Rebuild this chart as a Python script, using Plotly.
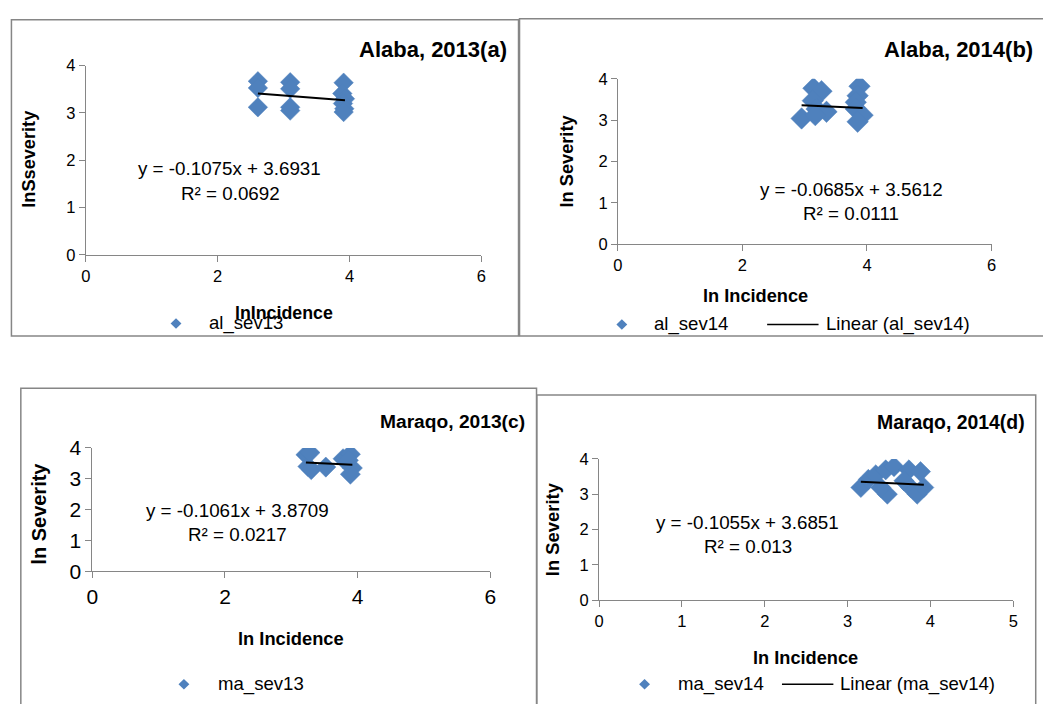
import plotly.graph_objects as go

# ---------------- data ----------------
al13_x = [2.61, 2.61, 2.61, 3.10, 3.10, 3.10, 3.10, 3.91, 3.89, 3.93, 3.90, 3.92, 3.91]
al13_y = [3.67, 3.53, 3.12, 3.65, 3.51, 3.12, 3.05, 3.64, 3.41, 3.30, 3.20, 3.09, 3.02]

al14_x = [2.95, 3.14, 3.27, 3.13, 3.19, 3.35, 3.17, 3.88, 3.85, 3.82, 3.82, 3.93, 3.85]
al14_y = [3.04, 3.77, 3.70, 3.47, 3.27, 3.20, 3.12, 3.82, 3.59, 3.43, 3.27, 3.12, 2.96]

ma13_x = [3.22, 3.25, 3.30, 3.28, 3.52, 3.78, 3.89, 3.92, 3.89, 3.86]
ma13_y = [3.78, 3.40, 3.30, 3.85, 3.38, 3.65, 3.80, 3.35, 3.15, 3.60]

ma14_x = [3.16, 3.25, 3.34, 3.46, 3.56, 3.48, 3.40, 3.74, 3.88, 3.76, 3.84, 3.92, 3.68]
ma14_y = [3.19, 3.42, 3.55, 3.69, 3.78, 3.00, 3.19, 3.69, 3.64, 3.19, 3.00, 3.19, 3.38]

series_names = ["al_sev13", "al_sev14", "ma_sev13", "ma_sev14"]
slopes = [-0.1075, -0.0685, -0.1061, -0.1055]
intercepts = [3.6931, 3.5612, 3.8709, 3.6851]
r2_values = ["0.0692", "0.0111", "0.0217", "0.013"]
panel_titles = ["Alaba, 2013(a)", "Alaba, 2014(b)", "Maraqo, 2013(c)", "Maraqo, 2014(d)"]
y_titles = ["lnSseverity", "ln Severity", "ln Severity", "ln Severity"]
x_titles = ["lnIncidence", "ln Incidence", "ln Incidence", "ln Incidence"]
x_ranges = [[0, 6], [0, 6], [0, 6], [0, 5]]
x_dticks = [2, 2, 2, 1]
y_range = [0, 4]

# ---------------- layout helpers ----------------
W, H = 1043, 704
FONT = "Liberation Sans, Arial, sans-serif"
BLUE = "#4F81BD"
GRAY = "#868686"


def PX(x):
    return x / W


def PY(y):
    return 1 - y / H


# plot areas in pixels: (left, right, top, bottom)
areas = [(80.7, 481.0, 55.5, 251.0),
         (619.0, 997.0, 69.0, 240.0),
         (87.3, 490.0, 450.7, 578.3),
         (600.0, 1019.0, 462.0, 608.0)]
tick_sizes = [16.5, 16.5, 21, 16.5]
marker_sizes = [15, 16.5, 15.5, 15.5]

xs = [al13_x, al14_x, ma13_x, ma14_x]
ys = [al13_y, al14_y, ma13_y, ma14_y]

fig = go.Figure()
layout = dict(width=W, height=H, margin=dict(l=0, r=0, t=0, b=0),
              paper_bgcolor="white", plot_bgcolor="white", showlegend=False,
              font=dict(family=FONT, color="black"))

for i in range(4):
    sfx = "" if i == 0 else str(i + 1)
    xa, ya = "x" + sfx, "y" + sfx
    fig.add_trace(go.Scatter(x=xs[i], y=ys[i], mode="markers", xaxis=xa, yaxis=ya,
                             name=series_names[i],
                             marker=dict(symbol="diamond", size=marker_sizes[i], color=BLUE,
                                         line=dict(width=0.5, color=BLUE))))
    x0, x1 = min(xs[i]), max(xs[i])
    fig.add_trace(go.Scatter(x=[x0, x1],
                             y=[slopes[i] * x0 + intercepts[i], slopes[i] * x1 + intercepts[i]],
                             mode="lines", xaxis=xa, yaxis=ya,
                             line=dict(color="black", width=2)))
    l, r, t, b = areas[i]
    axcommon = dict(showgrid=False, zeroline=False, showline=True, linecolor=GRAY, linewidth=1,
                    ticks="outside", ticklen=6, tickcolor=GRAY, tickwidth=1,
                    tickfont=dict(family=FONT, size=tick_sizes[i], color="black"), fixedrange=True)
    layout["xaxis" + sfx] = dict(domain=[PX(l), PX(r)], range=x_ranges[i], dtick=x_dticks[i],
                                 tick0=0, anchor=ya, **axcommon)
    layout["yaxis" + sfx] = dict(domain=[PY(b), PY(t)], range=y_range, dtick=1, tick0=0,
                                 anchor=xa, **axcommon)

fig.update_layout(**layout)

ann = []


def text(x, y, s, size, bold=False, xanchor="center", angle=0):
    ann.append(dict(x=PX(x), y=PY(y), xref="paper", yref="paper", showarrow=False,
                    text=("<b>%s</b>" % s) if bold else s, textangle=angle,
                    xanchor=xanchor, yanchor="middle",
                    font=dict(family=FONT, size=size, color="black")))


# titles (right-aligned)
title_pos = [(509, 39, 22), (1041, 39, 22), (527, 423, 19.2), (1033, 424, 19.4)]
for i, (x, y, s) in enumerate(title_pos):
    text(x, y, panel_titles[i], s, bold=True, xanchor="right")

# trendline equations
eq_pos = [((226.5, 162), (227, 188)), ((855, 183), (855, 208)),
          ((234.5, 515), (234.5, 540)), ((750.5, 528), (751, 553))]
for i, (e, rr) in enumerate(eq_pos):
    eq = "y = %.4fx + %.4f" % (slopes[i], intercepts[i])
    text(e[0], e[1], eq, 18.8)
    text(rr[0], rr[1], "R² = " + r2_values[i], 18.8)

# axis titles
ytitle_pos = [(23, 152, 18.2), (567, 154, 18.2), (33, 519, 20), (553, 535, 18.4)]
for i, (x, y, s) in enumerate(ytitle_pos):
    text(x, y, y_titles[i], s, bold=True, angle=-90)
xtitle_pos = [(281, 311, 17.8), (758, 294, 18.2), (288, 648, 18.3), (809, 668, 18.2)]
for i, (x, y, s) in enumerate(xtitle_pos):
    text(x, y, x_titles[i], s, bold=True)

# legends
shapes = []


def diamond(cx, cy, r=5.5):
    path = "M %f %f L %f %f L %f %f L %f %f Z" % (
        PX(cx - r), PY(cy), PX(cx), PY(cy - r), PX(cx + r), PY(cy), PX(cx), PY(cy + r))
    shapes.append(dict(type="path", path=path, xref="paper", yref="paper",
                       fillcolor=BLUE, line=dict(color=BLUE, width=0)))


def hline(xa, xb, y, color="black", width=1.5):
    shapes.append(dict(type="line", x0=PX(xa), x1=PX(xb), y0=PY(y), y1=PY(y),
                       xref="paper", yref="paper", line=dict(color=color, width=width)))


legend_marker = [(172, 322, 203), (623, 323, 654), (180, 695, 212), (646, 695, 678)]
for i, (dx, dy, tx) in enumerate(legend_marker):
    diamond(dx, dy)
    text(tx, dy, series_names[i], 18.6, xanchor="left")

legend_lines = {1: (770, 822, 323, 828), 3: (785, 837, 695, 842)}
for i, (xa_, xb_, yy, tx) in legend_lines.items():
    hline(xa_, xb_, yy)
    text(tx, yy, "Linear (%s)" % series_names[i], 18.6, xanchor="left")

# panel borders
boxes = [(5.5, 8, 518.5, 335), (519.5, 7, 1050, 335), (15, 389, 536.7, 720), (537, 396, 1041.7, 720)]
for (x0, y0, x1, y1) in boxes:
    shapes.append(dict(type="rect", x0=PX(x0), x1=PX(x1), y0=PY(y0), y1=PY(y1),
                       xref="paper", yref="paper", line=dict(color=GRAY, width=1.5),
                       fillcolor="rgba(0,0,0,0)", layer="below"))

fig.update_layout(annotations=ann, shapes=shapes)
fig.write_html(
    "out.html",
    config={"displayModeBar": False, "staticPlot": True},
    post_script="document.documentElement.style.margin='0';document.body.style.margin='0';"
                "document.body.style.padding='0';document.documentElement.style.overflow='hidden';"
                "document.body.style.overflow='hidden';",
)
